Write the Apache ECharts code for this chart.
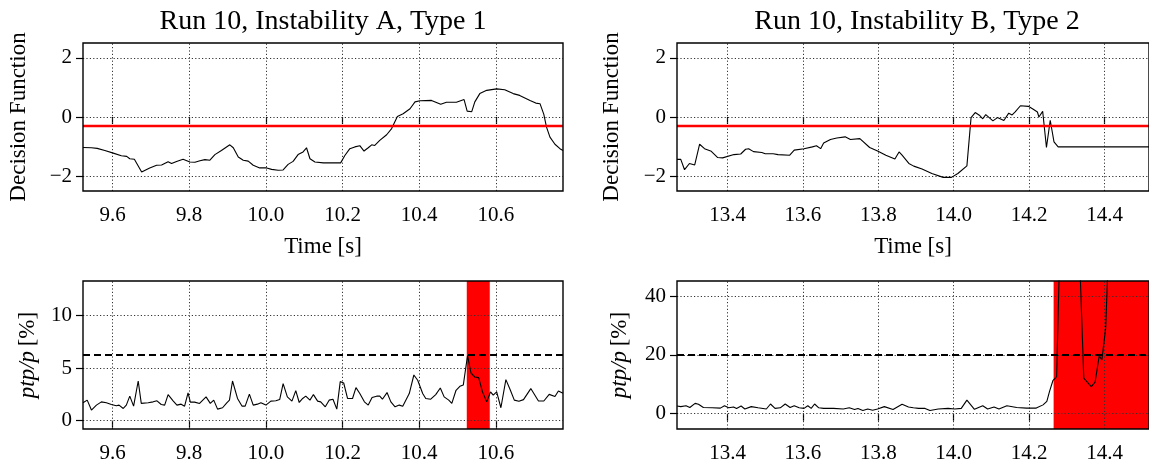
<!DOCTYPE html>
<html>
<head>
<meta charset="utf-8">
<script src="https://cdn.jsdelivr.net/npm/echarts@6/dist/echarts.min.js"></script>
<style>
html,body{margin:0;padding:0;background:#fff;}
#chart{width:1149px;height:466px;}
</style>
</head>
<body>
<div id="chart"></div>
<script>
// ---------- DATA ----------
const titles = ['Run 10, Instability A, Type 1', 'Run 10, Instability B, Type 2'];

const xRangeA = [9.523, 10.775];
const xRangeB = [13.266, 14.518];
const xTicksA = [9.6, 9.8, 10.0, 10.2, 10.4, 10.6];
const xTicksB = [13.4, 13.6, 13.8, 14.0, 14.2, 14.4];

const dfRange = [-2.5, 2.5];
const dfTicks = [-2, 0, 2];
const dfThreshold = -0.28;

const ptpRangeA = [-0.79, 13.27];
const ptpTicksA = [0, 5, 10];
const ptpThresholdA = 6.25;
const ptpRangeB = [-5.2, 45.1];
const ptpTicksB = [0, 20, 40];
const ptpThresholdB = 20;

const bandA = [10.524, 10.584];
const bandB = [14.265, 14.518];

const dfA_t = [9.523,9.545,9.560,9.580,9.602,9.623,9.637,9.645,9.657,9.676,9.697,9.715,9.728,9.745,9.754,9.767,9.784,9.802,9.815,9.828,9.841,9.854,9.867,9.884,9.906,9.915,9.928,9.941,9.954,9.967,9.984,10.002,10.015,10.032,10.045,10.058,10.071,10.084,10.097,10.106,10.115,10.128,10.150,10.195,10.206,10.219,10.232,10.245,10.256,10.267,10.276,10.284,10.297,10.315,10.328,10.343,10.358,10.376,10.389,10.402,10.432,10.456,10.471,10.497,10.517,10.525,10.537,10.545,10.558,10.576,10.602,10.623,10.645,10.662,10.689,10.704,10.715,10.725,10.732,10.741,10.754,10.767,10.775];
const dfA_v = [-1.03,-1.04,-1.06,-1.13,-1.22,-1.31,-1.33,-1.41,-1.43,-1.86,-1.72,-1.63,-1.62,-1.51,-1.57,-1.50,-1.43,-1.52,-1.53,-1.48,-1.44,-1.46,-1.27,-1.13,-0.94,-1.04,-1.35,-1.46,-1.49,-1.63,-1.72,-1.72,-1.77,-1.80,-1.79,-1.60,-1.50,-1.27,-1.18,-1.04,-1.41,-1.52,-1.55,-1.55,-1.30,-1.07,-1.01,-0.97,-1.15,-1.04,-0.94,-0.96,-0.79,-0.60,-0.39,0.02,0.11,0.28,0.51,0.55,0.56,0.43,0.50,0.50,0.59,0.20,0.18,0.51,0.79,0.90,0.95,0.92,0.79,0.73,0.56,0.47,0.45,0.09,-0.34,-0.68,-0.92,-1.07,-1.13];

const dfB_t = [13.266,13.276,13.286,13.299,13.313,13.326,13.339,13.357,13.374,13.387,13.417,13.435,13.448,13.456,13.469,13.491,13.500,13.521,13.534,13.565,13.577,13.603,13.625,13.636,13.647,13.655,13.673,13.690,13.712,13.726,13.751,13.777,13.798,13.820,13.844,13.855,13.863,13.881,13.894,13.916,13.942,13.972,13.994,14.011,14.035,14.046,14.057,14.068,14.077,14.085,14.104,14.116,14.133,14.146,14.155,14.163,14.177,14.198,14.211,14.222,14.226,14.236,14.246,14.256,14.266,14.277,14.518];
const dfB_v = [-1.43,-1.43,-1.78,-1.57,-1.62,-0.92,-1.07,-1.16,-1.37,-1.38,-1.27,-1.25,-1.09,-1.07,-1.17,-1.20,-1.24,-1.24,-1.27,-1.29,-1.12,-1.07,-1.01,-0.97,-1.07,-0.88,-0.76,-0.71,-0.67,-0.76,-0.73,-1.03,-1.15,-1.29,-1.42,-1.18,-1.29,-1.57,-1.66,-1.76,-1.91,-2.04,-2.04,-1.91,-1.65,-0.02,0.15,0.06,-0.06,0.08,-0.13,-0.02,-0.12,0.13,0.07,0.17,0.38,0.36,0.26,0.17,0.00,0.19,-1.03,-0.11,-0.84,-1.01,-1.01];

const ptpA_t = [9.523,9.528,9.534,9.545,9.558,9.571,9.584,9.597,9.610,9.617,9.628,9.636,9.645,9.655,9.667,9.675,9.693,9.706,9.716,9.727,9.736,9.745,9.758,9.768,9.779,9.788,9.797,9.803,9.814,9.827,9.844,9.855,9.864,9.874,9.887,9.898,9.905,9.913,9.926,9.938,9.946,9.957,9.967,9.978,9.987,10.000,10.013,10.026,10.036,10.045,10.056,10.068,10.078,10.087,10.096,10.104,10.115,10.124,10.135,10.143,10.155,10.165,10.175,10.185,10.194,10.203,10.213,10.226,10.235,10.245,10.257,10.267,10.277,10.289,10.297,10.304,10.316,10.326,10.337,10.348,10.357,10.374,10.386,10.396,10.409,10.417,10.430,10.443,10.455,10.465,10.477,10.485,10.496,10.506,10.515,10.526,10.535,10.545,10.555,10.565,10.576,10.586,10.593,10.602,10.613,10.626,10.637,10.648,10.660,10.672,10.691,10.711,10.725,10.739,10.754,10.763,10.775];
const ptpA_v = [1.70,1.79,1.95,1.01,1.48,1.79,1.70,1.54,1.42,1.48,1.16,1.48,2.33,1.38,3.77,1.64,1.70,1.79,1.89,1.54,1.48,2.48,1.89,1.48,1.57,1.38,2.64,1.76,1.76,1.64,2.26,1.64,1.95,1.10,1.23,1.70,1.95,3.77,2.11,1.38,1.38,2.52,1.48,1.57,1.70,1.48,1.86,1.89,2.01,3.52,2.26,1.86,2.86,1.73,2.11,2.33,1.95,2.48,1.86,1.79,1.32,1.95,2.04,1.10,3.71,3.58,2.11,2.11,3.14,2.58,1.79,1.48,2.20,2.33,2.33,2.04,2.67,1.79,1.32,1.48,1.38,2.58,4.34,3.84,2.58,2.11,2.04,2.48,3.11,2.26,1.95,1.64,2.89,3.27,3.40,6.19,4.53,4.15,4.09,2.74,1.79,2.74,2.42,2.74,1.23,3.90,2.96,1.95,1.85,2.00,3.05,1.87,1.87,2.50,2.30,2.82,2.60];

const ptpB_t = [13.266,13.276,13.290,13.300,13.314,13.323,13.336,13.359,13.381,13.392,13.403,13.416,13.424,13.436,13.446,13.463,13.481,13.503,13.514,13.526,13.540,13.553,13.566,13.577,13.590,13.603,13.613,13.622,13.631,13.642,13.655,13.681,13.707,13.723,13.737,13.746,13.759,13.772,13.785,13.798,13.816,13.839,13.863,13.880,13.893,13.907,13.924,13.937,13.959,13.985,14.003,14.020,14.035,14.055,14.077,14.090,14.107,14.120,14.141,14.167,14.193,14.219,14.237,14.247,14.254,14.263,14.273,14.282,14.332,14.345,14.365,14.375,14.386,14.393,14.403,14.412,14.518];
const ptpB_v = [2.6,2.4,2.7,2.1,3.5,3.2,2.1,2.0,1.9,2.7,2.0,2.3,1.8,2.6,1.6,2.4,2.0,1.6,3.3,1.8,2.0,3.3,2.1,2.7,2.0,1.8,2.7,1.8,3.3,2.0,1.8,1.8,1.6,2.0,1.4,1.8,1.1,1.6,1.2,1.6,2.4,1.4,3.2,2.3,2.0,1.8,1.8,1.1,1.6,1.8,1.6,1.8,4.6,1.5,2.7,1.6,2.3,1.6,2.7,2.1,1.9,1.9,3.0,4.2,7.5,11.2,12.6,60,60,12.1,9.2,10.7,19.7,18.3,29,60,60];

// ---------- STYLE ----------
const FONT = 'Liberation Serif';
const TICK_FS = 21;
const NAME_FS = 23;
const TITLE_FS = 28;

const zip = (a, b) => a.map((t, i) => [t, b[i]]);
const fmtY = v => (v < 0 ? '\u2212' + Math.abs(v) : String(v));

const grids = [
  {left: 83, top: 43, width: 480, height: 148},
  {left: 83, top: 281, width: 480, height: 148},
  {left: 677, top: 43, width: 480, height: 148},
  {left: 677, top: 281, width: 480, height: 148}
].map(g => Object.assign(g, {show: true, borderColor: '#000', borderWidth: 1.4, backgroundColor: 'transparent', z: 6}));

const gridLineStyle = {color: '#333', width: 1, type: [1.2, 2.2]};

function xAxis(idx, range, ticks, name) {
  return {
    type: 'value', gridIndex: idx, min: range[0], max: range[1],
    name: name || '', nameLocation: 'middle', nameGap: 44,
    nameTextStyle: {fontFamily: FONT, fontSize: NAME_FS, color: '#000'},
    axisLine: {show: false},
    axisTick: {show: true, inside: false, length: 7, customValues: ticks, lineStyle: {color: '#000', width: 1.2}},
    axisLabel: {show: true, customValues: ticks, margin: 14, fontFamily: FONT, fontSize: TICK_FS, color: '#000',
      formatter: v => v.toFixed(1)},
    splitLine: {show: false}
  };
}
function yAxis(idx, range, ticks, name, gap) {
  return {
    type: 'value', gridIndex: idx, min: range[0], max: range[1],
    name: name, nameLocation: 'middle', nameGap: gap, nameRotate: 90,
    nameTextStyle: {fontFamily: FONT, fontSize: NAME_FS, color: '#000',
      rich: {it: {fontFamily: FONT, fontSize: NAME_FS, fontStyle: 'italic', color: '#000'}}},
    axisLine: {show: false},
    axisTick: {show: true, inside: false, length: 7, customValues: ticks, lineStyle: {color: '#000', width: 1.2}},
    axisLabel: {show: true, customValues: ticks, margin: 11, fontFamily: FONT, fontSize: TICK_FS, color: '#000',
      formatter: fmtY},
    splitLine: {show: false}
  };
}

// dotted grid lines drawn as mark lines so they sit above the red bands
function gridSeries(idx, xt, yt) {
  return {
    type: 'line', xAxisIndex: idx, yAxisIndex: idx, data: [], z: 3, silent: true,
    markLine: {silent: true, symbol: 'none', z: 3, label: {show: false}, lineStyle: gridLineStyle,
      emphasis: {disabled: true}, animation: false,
      data: xt.map(v => ({xAxis: v})).concat(yt.map(v => ({yAxis: v})))}
  };
}

function lineSeries(idx, data, thr, thrStyle) {
  return {
    type: 'line', xAxisIndex: idx, yAxisIndex: idx, data: data, showSymbol: false, symbol: 'none',
    clip: true, z: 4, silent: true,
    lineStyle: {color: '#000', width: 1.1},
    markLine: {silent: true, symbol: 'none', z: 5, label: {show: false}, lineStyle: thrStyle,
      data: [{yAxis: thr}], animation: false}
  };
}
function bandSeries(idx, band) {
  return {
    type: 'line', xAxisIndex: idx, yAxisIndex: idx, data: [], z: 1, silent: true,
    markArea: {silent: true, z: 1, itemStyle: {color: '#ff0000', opacity: 1},
      data: [[{xAxis: band[0]}, {xAxis: band[1]}]]}
  };
}

const redLine = {color: '#ff0000', width: 2.4, type: 'solid'};
const dashLine = {color: '#000', width: 2, type: [7, 4]};

const ptpName = '{it|ptp/p}\u2009[%]';

const option = {
  animation: false,
  backgroundColor: '#fff',
  grid: grids,
  xAxis: [
    xAxis(0, xRangeA, xTicksA, 'Time [s]'),
    xAxis(1, xRangeA, xTicksA, ''),
    xAxis(2, xRangeB, xTicksB, 'Time [s]'),
    xAxis(3, xRangeB, xTicksB, '')
  ],
  yAxis: [
    yAxis(0, dfRange, dfTicks, 'Decision Function', 53),
    yAxis(1, ptpRangeA, ptpTicksA, ptpName, 44),
    yAxis(2, dfRange, dfTicks, 'Decision Function', 54),
    yAxis(3, ptpRangeB, ptpTicksB, ptpName, 46)
  ],
  graphic: [
    {type: 'text', x: 323, y: 22, style: {text: titles[0], fill: '#000', fontFamily: FONT, fontSize: TITLE_FS, align: 'center', verticalAlign: 'middle'}},
    {type: 'text', x: 917, y: 22, style: {text: titles[1], fill: '#000', fontFamily: FONT, fontSize: TITLE_FS, align: 'center', verticalAlign: 'middle'}}
  ],
  series: [
    bandSeries(1, bandA),
    bandSeries(3, bandB),
    gridSeries(0, xTicksA, dfTicks),
    gridSeries(1, xTicksA, ptpTicksA),
    gridSeries(2, xTicksB, dfTicks),
    gridSeries(3, xTicksB, ptpTicksB),
    lineSeries(0, zip(dfA_t, dfA_v), dfThreshold, redLine),
    lineSeries(1, zip(ptpA_t, ptpA_v), ptpThresholdA, dashLine),
    lineSeries(2, zip(dfB_t, dfB_v), dfThreshold, redLine),
    lineSeries(3, zip(ptpB_t, ptpB_v), ptpThresholdB, dashLine)
  ]
};

const chart = echarts.init(document.getElementById('chart'), null, {renderer: 'canvas'});
chart.setOption(option);
</script>
</body>
</html>
